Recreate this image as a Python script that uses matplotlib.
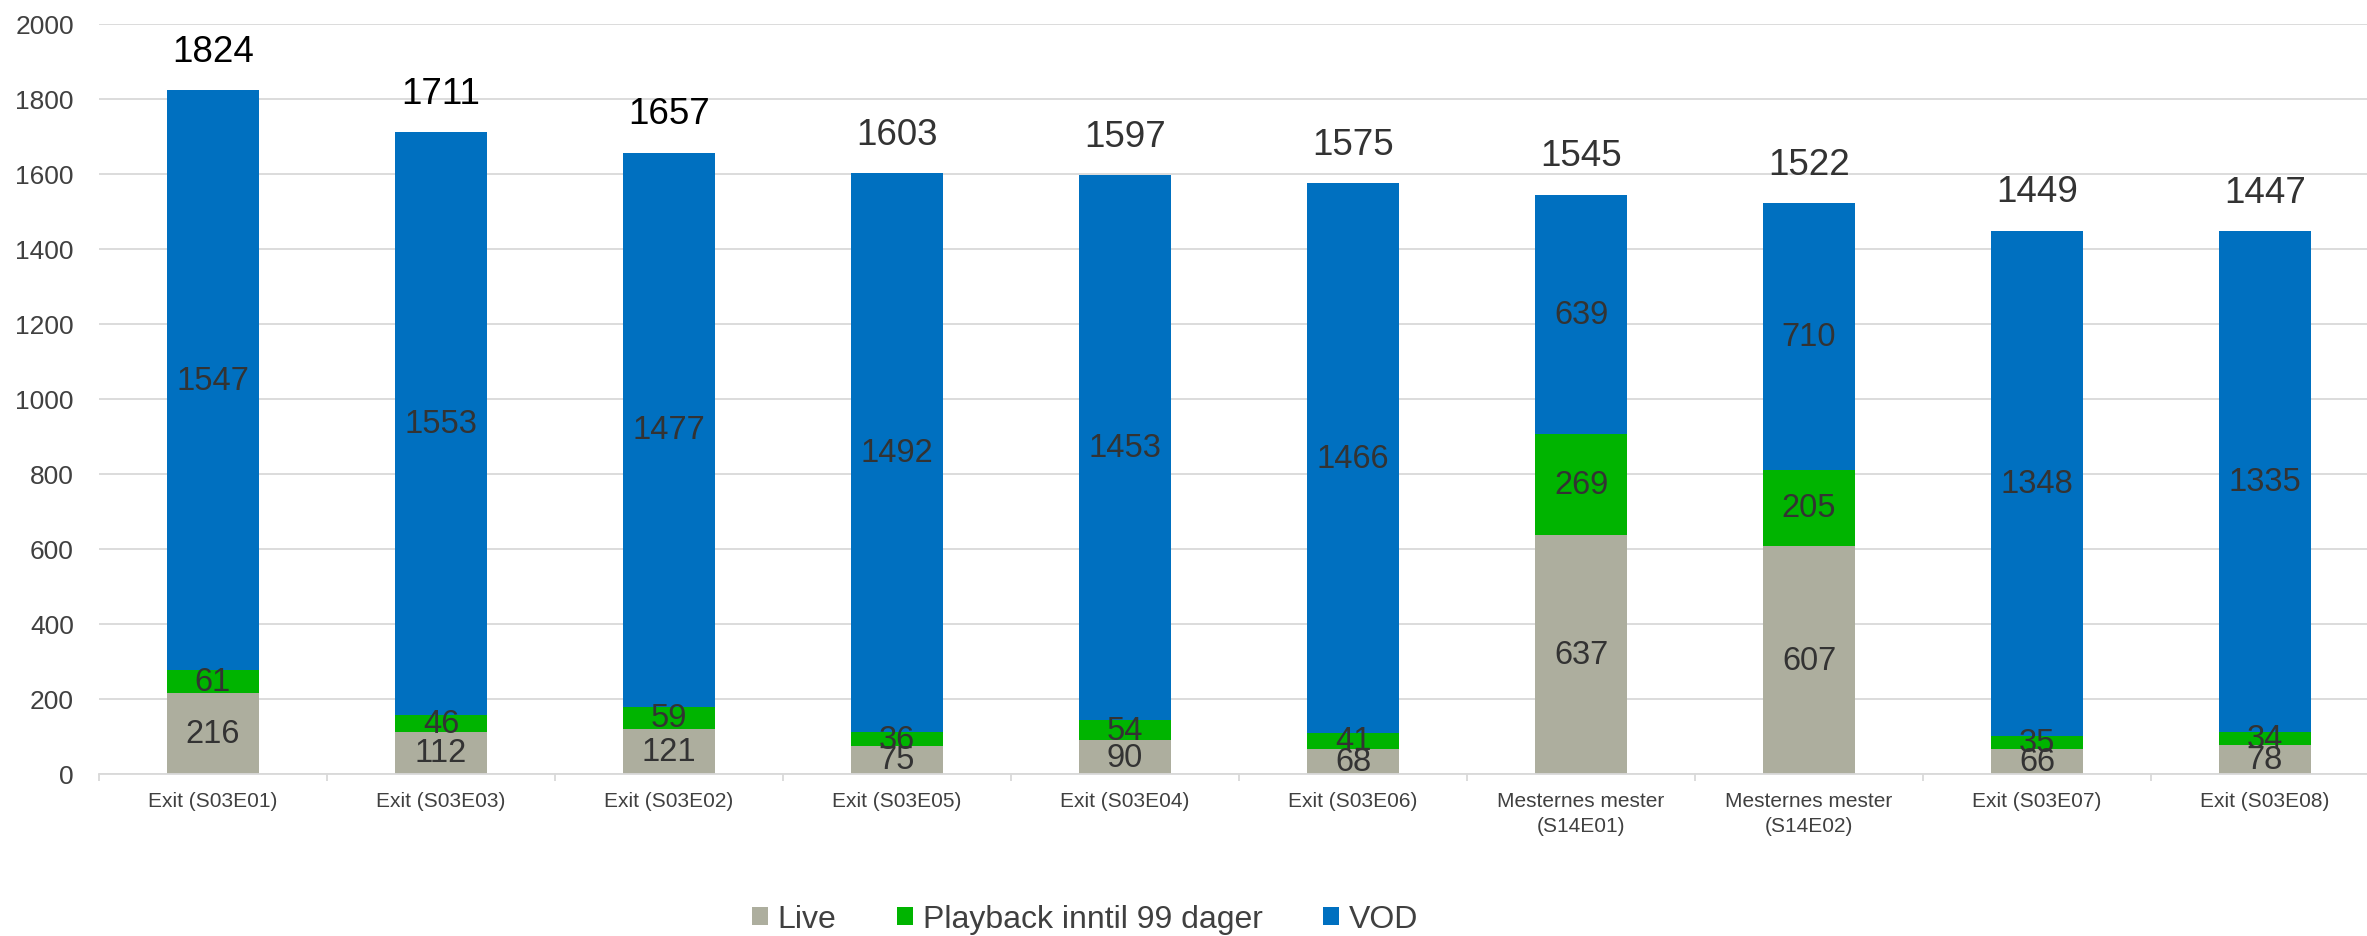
import matplotlib
matplotlib.use("Agg")
import matplotlib.pyplot as plt
import numpy as np

plt.rcParams['font.family'] = ['Liberation Sans', 'DejaVu Sans']

# Data
categories = ['Exit (S03E01)', 'Exit (S03E03)', 'Exit (S03E02)', 'Exit (S03E05)',
              'Exit (S03E04)', 'Exit (S03E06)', 'Mesternes mester\n(S14E01)',
              'Mesternes mester\n(S14E02)', 'Exit (S03E07)', 'Exit (S03E08)']
live = [216, 112, 121, 75, 90, 68, 637, 607, 66, 78]
playback = [61, 46, 59, 36, 54, 41, 269, 205, 35, 34]
vod = [1547, 1553, 1477, 1492, 1453, 1466, 639, 710, 1348, 1335]
totals = [1824, 1711, 1657, 1603, 1597, 1575, 1545, 1522, 1449, 1447]

series_names = ['Live', 'Playback inntil 99 dager', 'VOD']
colors = ['#ADAE9E', '#00B400', '#0070C0']
text_col = '#404040'

W, H = 2367, 937
fig = plt.figure(figsize=(W / 100, H / 100), dpi=100)
ax = fig.add_axes([99 / W, 162 / H, 2280 / W, 750 / H])

x = np.arange(len(categories))
bottom = np.zeros(len(categories))
for vals, name, col in zip([live, playback, vod], series_names, colors):
    vals = np.array(vals, dtype=float)
    ax.bar(x, vals, width=0.4, bottom=bottom, color=col, label=name)
    for xi, b, v in zip(x, bottom, vals):
        ax.text(xi, b + v / 2, f'{int(v)}', ha='center', va='center',
                fontsize=23.5, color='#333333')
    bottom += vals

# totals above bars
for i, (xi, t) in enumerate(zip(x, totals)):
    c = 'black' if i < 3 else '#333333'
    ax.annotate(f'{t}', (xi, t), xytext=(0, 21), textcoords='offset points',
                ha='center', va='baseline', fontsize=26.5, color=c)

ax.set_xlim(-0.5, len(categories) - 0.5)
ax.set_ylim(0, 2000)
ax.set_yticks(np.arange(0, 2001, 200))
ax.yaxis.grid(True, color='#D9D9D9', linewidth=1.3)
ax.set_axisbelow(True)

ax.set_xticks(x)
ax.set_xticklabels(categories, fontsize=15, color=text_col, linespacing=1.45)
ax.set_xticks(np.arange(-0.5, len(categories), 1), minor=True)
ax.tick_params(axis='x', which='major', length=0, pad=12)
ax.tick_params(axis='x', which='minor', length=5, color='#D9D9D9', width=1.3)
ax.tick_params(axis='y', length=0, pad=18, labelsize=19, labelcolor=text_col)

for s in ['top', 'right', 'left']:
    ax.spines[s].set_visible(False)
ax.spines['bottom'].set_color('#D9D9D9')
ax.spines['bottom'].set_linewidth(1.3)

leg = fig.legend(loc='center', bbox_to_anchor=(1085 / W, 1 - 920 / H), ncol=3,
                 frameon=False, fontsize=23, handlelength=0.5, handleheight=0.5,
                 handletextpad=0.3, columnspacing=1.9)
for t in leg.get_texts():
    t.set_color(text_col)

fig.savefig('out.png', dpi=100)
